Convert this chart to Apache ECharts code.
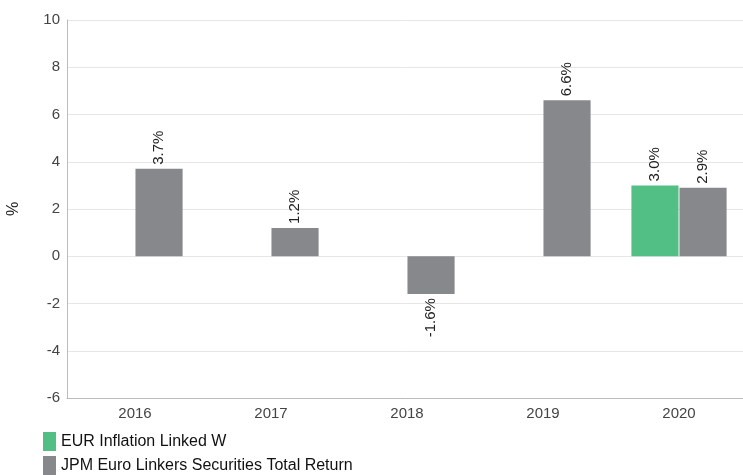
<!DOCTYPE html>
<html>
<head>
<meta charset="utf-8">
<script src="https://cdn.jsdelivr.net/npm/echarts@6/dist/echarts.min.js"></script>
<style>html,body{margin:0;padding:0;background:#fff;}#c{width:743px;height:475px;}</style>
</head>
<body>
<div id="c"></div>
<script>
var categories = ['2016', '2017', '2018', '2019', '2020'];
var fundName = 'EUR Inflation Linked W';
var benchName = 'JPM Euro Linkers Securities Total Return';
var fundValues = [null, null, null, null, 3.0];
var benchValues = [3.7, 1.2, -1.6, 6.6, 2.9];
var yTicks = [-6, -4, -2, 0, 2, 4, 6, 8, 10];

var FONT = '"Liberation Sans", Arial, sans-serif';

function toData(vals) {
  return vals.map(function (v) {
    if (v === null) return null;
    var neg = v < 0;
    return {
      value: v,
      label: {
        show: true,
        position: neg ? 'bottom' : 'top',
        rotate: 90,
        align: neg ? 'right' : 'left',
        verticalAlign: 'middle',
        distance: 4,
        formatter: function (p) { return p.value.toFixed(1) + '%'; },
        color: '#222',
        fontSize: 15,
        fontFamily: FONT
      }
    };
  });
}

var chart = echarts.init(document.getElementById('c'));
chart.setOption({
  animation: false,
  grid: { left: 67, right: -4, top: 20, bottom: 77, containLabel: false, outerBoundsMode: 'none' },
  legend: {
    orient: 'vertical',
    left: 43,
    top: 432,
    height: 60,
    itemWidth: 13,
    itemHeight: 19,
    itemGap: 5,
    padding: 0,
    icon: 'rect',
    textStyle: { color: '#111', fontSize: 16, fontFamily: FONT },
    data: [fundName, benchName]
  },
  xAxis: {
    type: 'category',
    data: categories,
    axisLine: { show: true, onZero: false, lineStyle: { color: '#bbb' } },
    axisTick: { show: false },
    axisLabel: { color: '#444', fontSize: 15, fontFamily: FONT, margin: 8 }
  },
  yAxis: {
    type: 'value',
    min: yTicks[0],
    max: yTicks[yTicks.length - 1],
    interval: 2,
    name: '%',
    nameLocation: 'middle',
    nameGap: 45,
    nameRotate: 90,
    nameTextStyle: { color: '#222', fontSize: 16, fontFamily: FONT },
    axisLine: { show: true, lineStyle: { color: '#bbb' } },
    axisTick: { show: false },
    axisLabel: { color: '#444', fontSize: 15, fontFamily: FONT, margin: 7 },
    splitLine: { lineStyle: { color: '#e6e6e6' } }
  },
  series: [
    {
      name: fundName,
      type: 'bar',
      data: toData(fundValues),
      barGap: '2%',
      barCategoryGap: '30%',
      itemStyle: { color: '#52bf85' }
    },
    {
      name: benchName,
      type: 'bar',
      data: toData(benchValues),
      barGap: '2%',
      barCategoryGap: '30%',
      itemStyle: { color: '#87888c' }
    }
  ]
});
</script>
</body>
</html>
